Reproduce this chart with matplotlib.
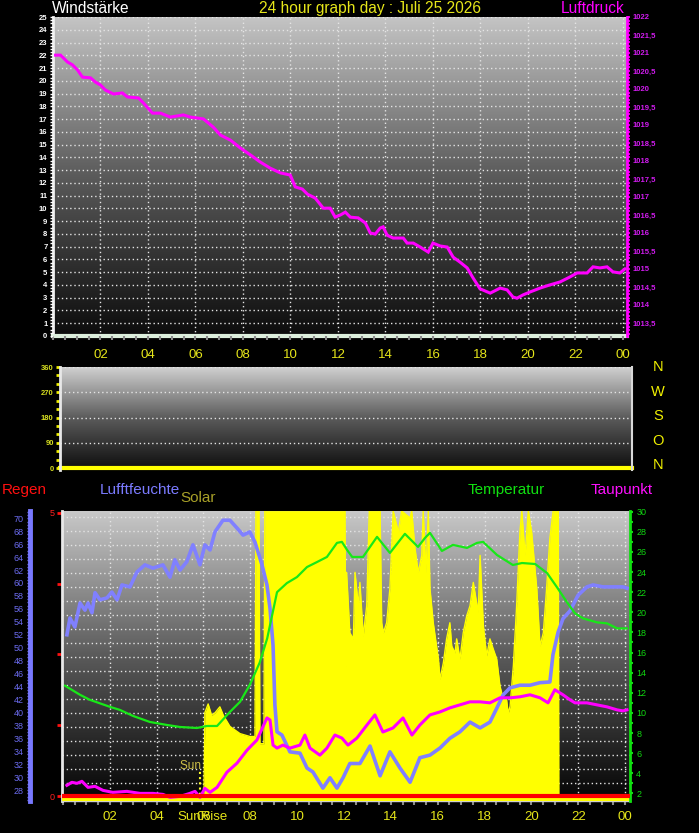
import numpy as np
import matplotlib.pyplot as plt
from matplotlib.colors import LinearSegmentedColormap
from matplotlib.ticker import MultipleLocator

plt.rcParams['font.family'] = ['Liberation Sans', 'DejaVu Sans']

W, H = 699, 833

# ---- data (hours since midnight) ----
hour_ticks = [2, 4, 6, 8, 10, 12, 14, 16, 18, 20, 22, 24]
hour_labels = ['02', '04', '06', '08', '10', '12', '14', '16', '18', '20', '22', '00']

wind_ticks = list(range(0, 26))
press_ticks = [1013.5, 1014, 1014.5, 1015, 1015.5, 1016, 1016.5, 1017, 1017.5,
               1018, 1018.5, 1019, 1019.5, 1020, 1020.5, 1021, 1021.5, 1022]
press_labels = ['1013,5', '1014', '1014,5', '1015', '1015,5', '1016', '1016,5', '1017',
                '1017,5', '1018', '1018,5', '1019', '1019,5', '1020', '1020,5', '1021',
                '1021,5', '1022']

p_hours = [0.11, 0.32, 0.61, 0.82, 1.03, 1.24, 1.58, 1.79, 2.0, 2.21, 2.55, 2.92, 3.13, 3.6,
           3.81, 4.19, 4.52, 4.94, 5.49, 5.78, 6.33, 6.75, 7.05, 7.47, 7.89, 8.31, 8.73, 9.15,
           9.57, 9.99, 10.2, 10.5, 10.71, 11.04, 11.38, 11.67, 11.88, 12.1, 12.31, 12.52, 12.85,
           13.15, 13.36, 13.57, 13.78, 13.9, 14.07, 14.32, 14.75, 14.91, 15.17, 15.46, 15.8,
           16.0, 16.3, 16.6, 16.85, 17.14, 17.44, 17.69, 17.98, 18.41, 18.83, 19.12, 19.37,
           19.54, 19.79, 20.08, 20.51, 20.93, 21.35, 21.77, 22.07, 22.49, 22.74, 23.03, 23.33,
           23.58, 23.87, 24.08]
pressure = [1020.94, 1020.94, 1020.75, 1020.67, 1020.53, 1020.33, 1020.31, 1020.19, 1020.11,
            1019.97, 1019.86, 1019.89, 1019.78, 1019.75, 1019.61, 1019.33, 1019.33, 1019.22,
            1019.28, 1019.22, 1019.17, 1018.94, 1018.72, 1018.58, 1018.36, 1018.17, 1017.97,
            1017.8, 1017.67, 1017.61, 1017.28, 1017.22, 1017.08, 1016.97, 1016.69, 1016.69,
            1016.44, 1016.5, 1016.58, 1016.44, 1016.42, 1016.28, 1016.0, 1015.97, 1016.14,
            1016.17, 1015.94, 1015.86, 1015.86, 1015.72, 1015.72, 1015.61, 1015.47, 1015.72,
            1015.64, 1015.61, 1015.33, 1015.19, 1015.03, 1014.75, 1014.45, 1014.33, 1014.47,
            1014.42, 1014.22, 1014.19, 1014.28, 1014.36, 1014.47, 1014.56, 1014.64, 1014.78,
            1014.89, 1014.89, 1015.06, 1015.03, 1015.06, 1014.92, 1014.89, 1015.0]

dir_ticks = [0, 90, 180, 270, 360]
dir_hours = [0, 24.2]
wind_dir = [0, 0]
compass = ['N', 'W', 'S', 'O', 'N']

rain_hours = [0, 24.21]
rain = [0, 0]

h_hours = [0.17, 0.30, 0.51, 0.73, 0.94, 1.07, 1.24, 1.37, 1.58, 1.88, 2.09, 2.31, 2.52, 2.86,
           3.16, 3.50, 3.84, 4.27, 4.57, 4.78, 5.0, 5.29, 5.55, 5.85, 6.06, 6.28, 6.49, 6.83,
           7.13, 7.43, 7.69, 7.98, 8.20, 8.50, 8.71, 8.84, 8.97, 9.05, 9.14, 9.35, 9.69, 10.12,
           10.42, 10.67, 11.1, 11.4, 11.7, 11.96, 12.25, 12.68, 13.11, 13.54, 13.96, 14.39,
           14.82, 15.24, 15.67, 16.1, 16.52, 16.95, 17.38, 17.81, 18.23, 18.53, 18.79, 19.09,
           19.51, 19.94, 20.37, 20.79, 20.92, 21.14, 21.35, 21.65, 21.99, 22.37, 22.63, 23.06,
           23.48, 23.91, 24.08]
humidity = [52.0, 54.6, 53.2, 56.9, 55.8, 56.9, 55.4, 58.5, 57.4, 57.7, 58.6, 57.4, 59.7, 59.4,
            61.7, 62.8, 62.3, 62.8, 60.9, 63.6, 62.0, 63.3, 65.9, 62.8, 65.9, 65.1, 67.9, 69.7,
            69.7, 68.5, 67.4, 67.9, 66.3, 62.8, 59.7, 56.1, 50.4, 41.1, 37.0, 36.5, 33.9, 33.7,
            31.4, 30.8, 28.3, 29.9, 28.3, 29.9, 32.1, 32.1, 34.8, 30.2, 33.9, 31.4, 29.2, 33.0,
            33.4, 34.5, 36.0, 37.0, 38.5, 37.6, 38.5, 40.7, 42.7, 43.8, 44.2, 44.2, 44.6, 44.7,
            48.9, 52.4, 54.5, 55.7, 58.1, 59.4, 59.7, 59.4, 59.4, 59.4, 59.2]

t_hours = [0.09, 0.73, 1.15, 2.01, 2.43, 2.99, 3.71, 4.44, 5.0, 5.72, 6.15, 6.58, 7.13, 7.56,
           7.98, 8.4, 8.72, 8.93, 9.14, 9.56, 9.99, 10.42, 10.85, 11.27, 11.7, 11.91, 12.13,
           12.35, 12.81, 13.41, 13.96, 14.6, 15.16, 15.46, 15.67, 16.18, 16.65, 17.25, 17.68,
           17.94, 18.53, 19.21, 19.6, 20.16, 20.67, 21.09, 21.52, 21.86, 22.2, 22.8, 23.23,
           23.66, 24.08]
temperature = [12.7, 11.8, 11.3, 10.6, 10.3, 9.7, 9.1, 8.8, 8.6, 8.5, 8.7, 8.7, 10.1, 11.1,
               12.8, 15.0, 17.4, 19.7, 22.0, 22.9, 23.5, 24.5, 25.0, 25.5, 26.9, 27.0, 26.2,
               25.5, 25.5, 27.5, 25.9, 27.8, 26.5, 27.4, 27.9, 26.1, 26.7, 26.4, 26.9, 27.0,
               25.7, 24.7, 24.9, 24.8, 23.9, 22.5, 21.0, 19.9, 19.4, 19.0, 18.9, 18.4, 18.4]

d_hours = [0.17, 0.38, 0.6, 0.81, 1.07, 1.37, 1.71, 2.13, 2.73, 3.29, 3.84, 4.27, 4.57, 5.0,
           5.42, 5.64, 5.85, 6.06, 6.28, 6.58, 7.0, 7.43, 7.86, 8.28, 8.71, 8.84, 8.97, 9.14,
           9.39, 9.69, 10.12, 10.33, 10.55, 10.97, 11.27, 11.61, 11.91, 12.17, 12.55, 12.98,
           13.32, 13.66, 14.09, 14.52, 14.9, 15.24, 15.67, 16.1, 16.52, 16.95, 17.38, 17.81,
           18.23, 18.66, 19.09, 19.51, 19.94, 20.37, 20.71, 21.0, 21.35, 21.65, 21.86, 22.37,
           22.8, 23.23, 23.66, 23.91, 24.08]
dewpoint = [2.8, 3.1, 3.0, 3.2, 2.6, 2.7, 2.3, 2.1, 2.2, 2.0, 2.0, 1.9, 1.6, 1.7, 2.0, 2.2, 1.6,
            2.5, 2.1, 2.6, 4.1, 5.0, 6.3, 7.3, 9.5, 9.3, 6.8, 6.5, 6.8, 6.5, 6.8, 7.8, 6.5, 5.8,
            6.5, 7.8, 7.5, 6.8, 7.5, 8.8, 9.8, 8.1, 8.5, 9.5, 7.8, 8.8, 9.8, 10.1, 10.5, 10.8,
            11.1, 11.1, 11.0, 11.5, 11.5, 11.6, 11.8, 11.5, 11.0, 12.3, 11.8, 11.3, 11.0, 11.0,
            10.8, 10.6, 10.3, 10.2, 10.3]

s_hours = [0, 6.02, 6.06, 6.2, 6.35, 6.5, 6.7, 6.85, 7.13, 7.56, 7.98, 8.2, 8.24, 8.37, 8.41,
           8.58, 8.62, 12.04, 12.08, 12.11, 12.25, 12.4, 12.47, 12.61, 12.68, 12.82, 12.97,
           13.08, 13.54, 13.61, 13.68, 13.82, 13.96, 14.1, 14.32, 14.46, 14.82, 14.89, 15.03,
           15.17, 15.32, 15.38, 15.5, 15.6, 15.67, 15.81, 16.03, 16.1, 16.24, 16.38, 16.52,
           16.6, 16.74, 16.81, 16.95, 17.09, 17.24, 17.38, 17.52, 17.59, 17.73, 17.81, 17.95,
           18.09, 18.23, 18.37, 18.52, 18.66, 18.8, 18.94, 19.01, 19.09, 19.23, 19.37, 19.51,
           19.59, 19.73, 19.87, 20.01, 20.23, 20.37, 20.51, 20.65, 20.79, 20.93, 21.15, 21.17,
           24.21]
solar = [0, 0, 300, 330, 290, 300, 320, 290, 252, 227, 217, 217, 1000, 1000, 192, 192, 1000,
         1000, 460, 787, 577, 556, 787, 671, 752, 566, 671, 1000, 1000, 612, 577, 612, 731,
         1000, 927, 1000, 976, 1000, 871, 787, 846, 1000, 787, 1000, 731, 612, 486, 416, 472,
         556, 612, 531, 507, 556, 486, 577, 636, 671, 752, 717, 647, 846, 601, 497, 556, 521,
         486, 392, 346, 346, 297, 322, 462, 671, 927, 1000, 846, 1000, 927, 731, 531, 577,
         731, 906, 1000, 1000, 0, 0]
sunrise_h = 5.85
sunset_h = 21.15

hum_ticks = list(range(28, 71, 2))
temp_ticks = list(range(2, 31, 2))

# ---- styling helpers ----
YEL = '#e6e61a'
GRID = dict(color='#e4e4e4', linestyle=(0, (1, 2)), linewidth=1.0)


def box(l, t, r, b):
    return [l / W, 1 - b / H, (r - l) / W, (b - t) / H]


def background(ax, top, bottom):
    cmap = LinearSegmentedColormap.from_list('bg', [bottom, '#5a5a5a', top])
    grad = np.linspace(0, 1, 256).reshape(-1, 1)
    ax.imshow(grad, cmap=cmap, origin='lower', extent=(0, 1, 0, 1),
              transform=ax.transAxes, aspect='auto', zorder=0, interpolation='bilinear')


def bare(ax):
    for s in ax.spines.values():
        s.set_visible(False)


fig = plt.figure(figsize=(W / 100, H / 100), dpi=100, facecolor='black')

# ================= top panel: Windstärke / Luftdruck =================
ax1 = fig.add_axes(box(53, 17, 627, 336))
ax1.set_facecolor('black')
background(ax1, '#c4c4c4', '#0c0c0c')
ax1.set_xlim(0, 24.17)
ax1.set_ylim(0, 25)
ax1.set_yticks(wind_ticks, [str(v) for v in wind_ticks])
ax1.yaxis.set_minor_locator(MultipleLocator(0.25))
ax1.set_xticks(hour_ticks, hour_labels)
ax1.xaxis.set_minor_locator(MultipleLocator(0.5))
ax1.tick_params(axis='y', which='both', colors='white', labelsize=5.5, length=2.5, width=1, pad=1.5)
ax1.tick_params(axis='x', which='both', colors='#8a8a8a', labelcolor=YEL, labelsize=9.5,
                length=3, width=1.5, pad=6.5)
for lab in ax1.get_yticklabels():
    lab.set_fontweight('bold')
ax1.grid(True, **GRID)
ax1.set_axisbelow(False)
for lab in ax1.get_xticklabels():
    lab.set_color(YEL)
ax1.spines['top'].set_visible(False)
ax1.spines['right'].set_visible(False)
ax1.spines['left'].set_color('#f0f0f0')
ax1.spines['left'].set_linewidth(2)
ax1.spines['bottom'].set_color('#dcefdc')
ax1.spines['bottom'].set_linewidth(3)

ax1r = ax1.twinx()
bare(ax1r)
ax1r.spines['right'].set_visible(True)
ax1r.spines['right'].set_color('#ff00ff')
ax1r.spines['right'].set_linewidth(2)
ax1r.set_ylim(1022 - 319 / 36, 1022)
ax1r.set_yticks(press_ticks, press_labels)
ax1r.yaxis.set_minor_locator(MultipleLocator(0.1))
ax1r.tick_params(axis='y', which='both', colors='#ff00ff', labelcolor='#d21cf0',
                 labelsize=5.5, length=2.5, width=1.2, pad=1.5)
for lab in ax1r.get_yticklabels():
    lab.set_fontweight('bold')
ax1r.plot(p_hours, pressure, color='#ff00ff', linewidth=2.2, solid_joinstyle='miter')

fig.text(52 / W, 1 - 1 / H, 'Windstärke', color='white', fontsize=11.2, ha='left', va='top')
fig.text(370 / W, 1 - 1 / H, '24 hour graph day : Juli 25 2026', color=YEL, fontsize=11.2,
         ha='center', va='top')
fig.text(625 / W, 1 - 1 / H, 'Luftdruck', color='#ff00ff', fontsize=11.2, ha='right', va='top')

# ================= middle panel: wind direction =================
ax2 = fig.add_axes(box(60, 367, 632, 470))
ax2.set_facecolor('black')
background(ax2, '#d0d0d0', '#0c0c0c')
ax2.set_xlim(0, 24.2)
ax2.set_ylim(-7, 360)
ax2.set_xticks([])
ax2.set_yticks(dir_ticks, [str(v) for v in dir_ticks])
ax2.yaxis.set_minor_locator(MultipleLocator(30))
ax2.tick_params(axis='y', which='both', colors='#f0f000', labelcolor='#d8e020', labelsize=5.5,
                length=3, width=2, pad=1.5)
for lab in ax2.get_yticklabels():
    lab.set_fontweight('bold')
ax2.grid(True, axis='y', **GRID)
ax2.spines['top'].set_visible(False)
ax2.spines['bottom'].set_visible(False)
ax2.spines['left'].set_color('#e8e8e8')
ax2.spines['left'].set_linewidth(2)
ax2.spines['right'].set_color('#d8d8d8')
ax2.spines['right'].set_linewidth(1.5)
ax2.plot(dir_hours, wind_dir, color='#ffff00', linewidth=3, clip_on=False)

for i, c in enumerate(compass):
    fig.text(658 / W, 1 - (367 + i * 24.6) / H, c, color='#f0f000', fontsize=10.5,
             ha='center', va='center')

# ================= bottom panel: rain, humidity, solar, temperature =================
axb = fig.add_axes(box(62, 511, 630, 801))
axb.set_facecolor('black')
background(axb, '#c8c8c8', '#040404')
xlim_b = (-0.04, 24.21)
axb.set_xlim(*xlim_b)
axb.set_ylim(-0.088, 5.03)
axb.set_yticks([0, 1.25, 2.5, 3.75, 5], ['0', '', '', '', '5'])
axb.tick_params(axis='y', colors='#ff1010', labelcolor='#ff2020', labelsize=6.5, length=3.5,
                width=2, pad=2)
axb.set_xticks(hour_ticks, hour_labels)
axb.xaxis.set_minor_locator(MultipleLocator(0.5))
axb.tick_params(axis='x', which='both', colors='#8a8a8a', labelcolor=YEL, labelsize=9.5,
                length=3, width=1.5, pad=4.5)
axb.grid(True, axis='x', **GRID)
axb.hlines(np.linspace(0.062, 0.980, 20), 0, 1, transform=axb.transAxes, zorder=1, **GRID)
axb.spines['top'].set_visible(False)
axb.spines['right'].set_visible(False)
axb.spines['left'].set_color('#e8e8e8')
axb.spines['left'].set_linewidth(2)
axb.spines['bottom'].set_color('#cfcfcf')
axb.spines['bottom'].set_linewidth(1)
axb.text(180 / W * 0 + (180 - 62) / 568, (801 - 766) / 290, 'Sun Rise', color='#cfc048',
         fontsize=8.5, transform=axb.transAxes, ha='left', va='center', zorder=3)
axb.vlines([sunrise_h, sunset_h], 0.005, 0.105, transform=axb.get_xaxis_transform(),
           colors='#ffff30', linestyles=(0, (1, 1.5)), linewidth=1.5, zorder=3)

axs = axb.twinx()
bare(axs)
axs.set_ylim(-7, 1000)
axs.set_yticks([])
axs.fill_between(s_hours, 0, solar, color='#ffff00', linewidth=0)
axs.plot(s_hours, solar, color='#ffff00', linewidth=1.0)
axs.plot(s_hours, [0] * len(s_hours), color='#ffff00', linewidth=3)

axh = axb.twinx()
bare(axh)
axh.spines['left'].set_visible(True)
axh.spines['left'].set_position(('axes', -32 / 568))
axh.spines['left'].set_color('#7878ff')
axh.spines['left'].set_linewidth(3.5)
axh.yaxis.tick_left()
axh.set_ylim(70 - (801 - 518.3) / 6.47, 70 + (518.3 - 511) / 6.47)
axh.set_yticks(hum_ticks, [str(v) for v in hum_ticks])
axh.yaxis.set_minor_locator(MultipleLocator(0.5))
axh.tick_params(axis='y', which='both', colors='#7878ff', labelcolor='#6c6cf0', labelsize=6.5,
                length=2, width=1, pad=2.5)
axh.plot(h_hours, humidity, color='#8080ff', linewidth=2.6)

axt = axb.twinx()
bare(axt)
axt.spines['right'].set_visible(True)
axt.spines['right'].set_color('#10e010')
axt.spines['right'].set_linewidth(2)
axt.set_ylim(30 - (801 - 511.7) / 10.06, 30 + (511.7 - 511) / 10.06)
axt.set_yticks(temp_ticks, [str(v) for v in temp_ticks])
axt.yaxis.set_minor_locator(MultipleLocator(1))
axt.tick_params(axis='y', which='both', colors='#10e010', labelcolor='#10d810', labelsize=6.5,
                length=2.5, width=1.5, pad=2)
axt.plot(t_hours, temperature, color='#18e818', linewidth=1.6)
axt.plot(d_hours, dewpoint, color='#ff00ff', linewidth=2.2)

axr = axb.twinx()
bare(axr)
axr.set_ylim(-0.088, 5.03)
axr.set_yticks([])
axr.plot(rain_hours, rain, color='#ff0000', linewidth=3)

for ax in (axs, axh, axt, axr):
    ax.set_xlim(*xlim_b)

fig.text(2 / W, 1 - 490 / H, 'Regen', color='#ff1010', fontsize=11, ha='left', va='center')
fig.text(100 / W, 1 - 490 / H, 'Lufftfeuchte', color='#7b7bff', fontsize=11, ha='left',
         va='center')
fig.text(180 / W, 1 - 498 / H, 'Solar', color='#a8a028', fontsize=11, ha='left', va='center')
fig.text(468 / W, 1 - 490 / H, 'Temperatur', color='#10e010', fontsize=11, ha='left',
         va='center')
fig.text(591 / W, 1 - 490 / H, 'Taupunkt', color='#ff10ff', fontsize=11, ha='left', va='center')
fig.text(177 / W, 1 - 817 / H, 'SunRise', color=YEL, fontsize=9.5, ha='left', va='center')

fig.savefig('out.png', dpi=100, facecolor='black')
